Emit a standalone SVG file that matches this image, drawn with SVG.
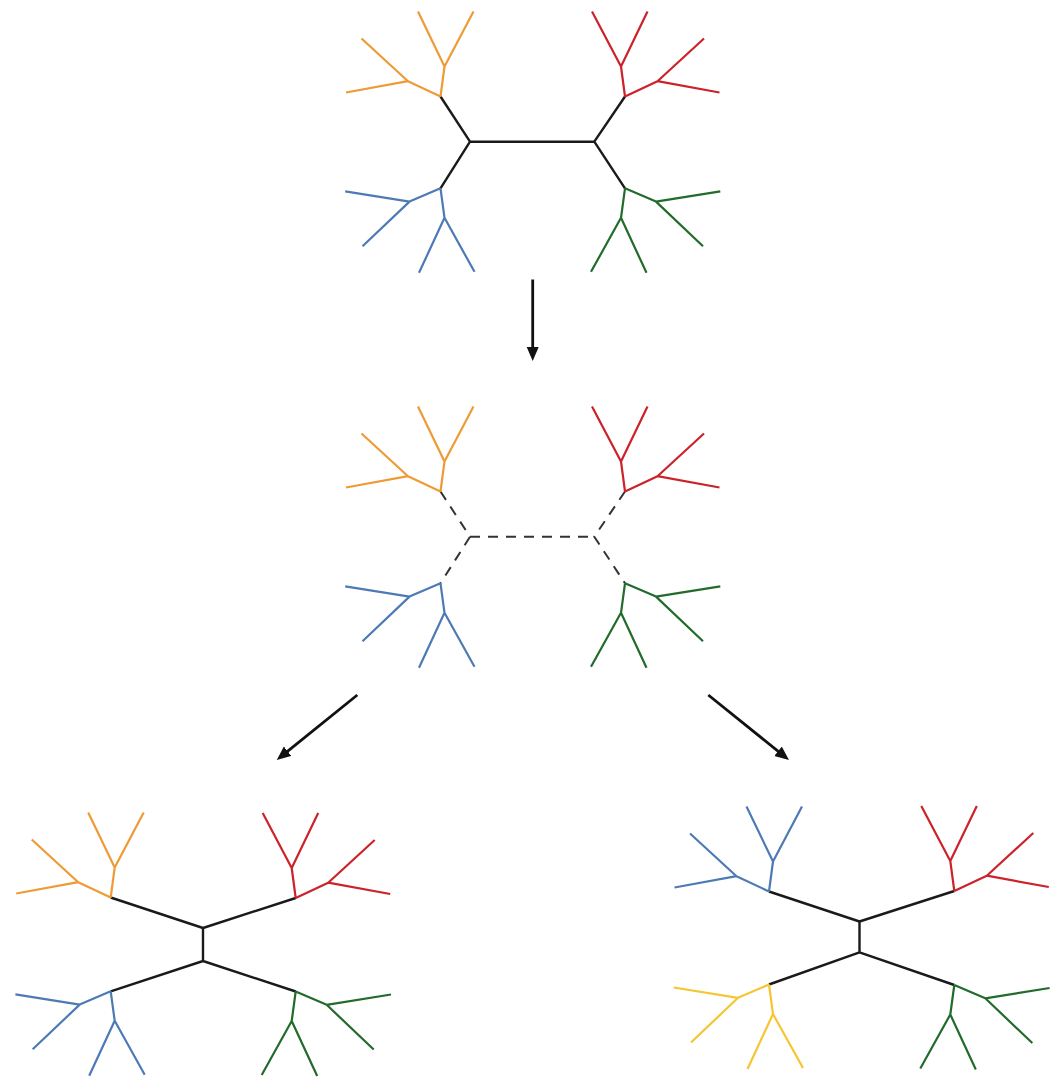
<svg xmlns="http://www.w3.org/2000/svg" xmlns:xlink="http://www.w3.org/1999/xlink" width="1060" height="1078" viewBox="0 0 1060 1078">
  <style>
    .sub { fill: none; stroke-width: 2.2; stroke-linejoin: round; }
    .orange { stroke: #EE9B35; }
    .red { stroke: #CC2229; }
    .blue { stroke: #4D7AB5; }
    .green { stroke: #226B2B; }
    .yellow { stroke: #F6C532; }
    .spine { fill: none; stroke: #1a1a1a; stroke-width: 2.4; stroke-linejoin: round; }
    .dashed { fill: none; stroke: #333; stroke-width: 2; stroke-dasharray: 10 8; }
    .arrow { fill: none; stroke: #111; stroke-width: 2.8; marker-end: url(#head); }
  </style>
  <defs>
    <marker id="head" markerUnits="userSpaceOnUse" markerWidth="16" markerHeight="14" refX="7" refY="6" orient="auto">
      <path d="M0,0 L14,6 L0,12 z" fill="#111"/>
    </marker>
    <path id="U" d="M0,0 L4,-30 M4,-30 L-22.5,-85 M4,-30 L33,-85 M0,0 L-32.5,-15.3 L-79,-58 M-32.5,-15.3 L-94.5,-4"/>
    <path id="L" d="M0,0 L4,29.5 L-21.5,84.5 M4,29.5 L34,83.5 M0,0 L-31,13.3 L-95.3,3 M-31,13.3 L-78,58"/>
  </defs>

  <!-- Top tree -->
  <g id="tree-top">
    <path class="spine" d="M440.5,96.5 L470,141.7 L440.5,188.3 M470,141.7 L594.3,141.7 M625,96.5 L594.3,141.7 L625,188.3"/>
    <g id="top-orange"><use href="#U" class="sub orange" transform="translate(440.5,96.5)"/></g>
    <g id="top-blue"><use href="#L" class="sub blue" transform="translate(440.5,188.3)"/></g>
    <g id="top-red"><use href="#U" class="sub red" transform="translate(625,96.5) scale(-1,1)"/></g>
    <g id="top-green"><use href="#L" class="sub green" transform="translate(625,188.3) scale(-1,1)"/></g>
  </g>

  <!-- Middle tree (dashed backbone) -->
  <g id="tree-middle">
    <path class="dashed" d="M440.5,491.5 L470,536.7 L440.5,583.3"/>
    <path class="dashed" d="M470,536.7 L594.3,536.7"/>
    <path class="dashed" d="M625,491.5 L594.3,536.7 L625,583.3"/>
    <g id="mid-orange"><use href="#U" class="sub orange" transform="translate(440.5,491.5)"/></g>
    <g id="mid-blue"><use href="#L" class="sub blue" transform="translate(440.5,583.3)"/></g>
    <g id="mid-red"><use href="#U" class="sub red" transform="translate(625,491.5) scale(-1,1)"/></g>
    <g id="mid-green"><use href="#L" class="sub green" transform="translate(625,583.3) scale(-1,1)"/></g>
  </g>

  <!-- Bottom-left tree -->
  <g id="tree-bottom-left">
    <path class="spine" d="M110.7,897.5 L203,928 L295.7,898 M203,928 L203,961 M110.7,991.3 L203,961 L295.7,991.5"/>
    <g id="bl-orange"><use href="#U" class="sub orange" transform="translate(110.7,897.5)"/></g>
    <g id="bl-blue"><use href="#L" class="sub blue" transform="translate(110.7,991.3)"/></g>
    <g id="bl-red"><use href="#U" class="sub red" transform="translate(295.7,898) scale(-1,1)"/></g>
    <g id="bl-green"><use href="#L" class="sub green" transform="translate(295.7,991.5) scale(-1,1)"/></g>
  </g>

  <!-- Bottom-right tree -->
  <g id="tree-bottom-right">
    <path class="spine" d="M769,891.5 L859.5,921.5 L954.3,891 M859.5,921.5 L859.5,952.3 M769,984.5 L859.5,952.3 L954.3,985"/>
    <g id="br-blue"><use href="#U" class="sub blue" transform="translate(769,891.5)"/></g>
    <g id="br-yellow"><use href="#L" class="sub yellow" transform="translate(769,984.5)"/></g>
    <g id="br-red"><use href="#U" class="sub red" transform="translate(954.3,891) scale(-1,1)"/></g>
    <g id="br-green"><use href="#L" class="sub green" transform="translate(954.3,985) scale(-1,1)"/></g>
  </g>

  <!-- Connectors -->
  <g id="connectors">
    <path class="arrow" d="M532.7,279.5 L532.7,354"/>
    <path class="arrow" d="M357.3,695 L282.2,755.6"/>
    <path class="arrow" d="M708.3,695 L783.5,755.6"/>
  </g>
</svg>
